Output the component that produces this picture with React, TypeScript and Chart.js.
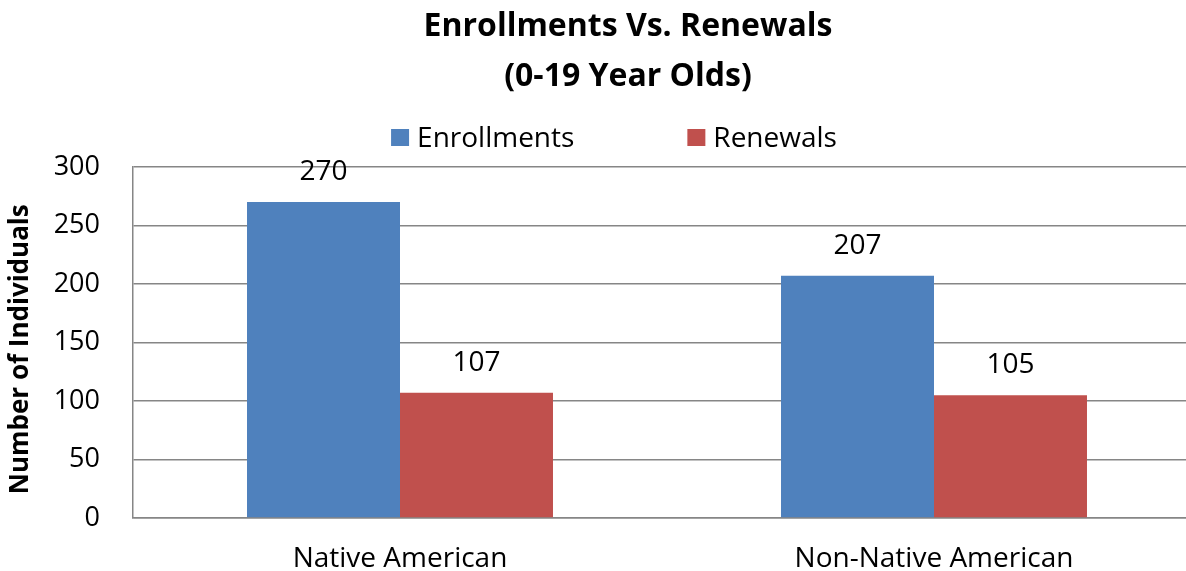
import React, { useEffect, useRef } from "react";
import { Chart, registerables } from "chart.js";

Chart.register(...registerables);

const titleLines = ["Enrollments Vs. Renewals", "(0-19 Year Olds)"];
const categories = ["Native American", "Non-Native American"];
const seriesNames = ["Enrollments", "Renewals"];
const enrollments = [270, 207];
const renewals = [107, 105];
const seriesColors = ["#4F81BD", "#C0504D"];
const yMin = 0;
const yMax = 300;
const yStep = 50;
const yAxisTitle = "Number of Individuals  ";

const FONT = "'Open Sans', 'DejaVu Sans', sans-serif";
const CANVAS_W = 1256;
const CANVAS_H = 571;

const valueLabels = {
  id: "valueLabels",
  afterDatasetsDraw(chart: any) {
    const ctx = chart.ctx;
    ctx.save();
    ctx.font = `28px ${FONT}`;
    ctx.fillStyle = "#000";
    ctx.textAlign = "center";
    ctx.textBaseline = "middle";
    chart.data.datasets.forEach((ds: any, i: number) => {
      const meta = chart.getDatasetMeta(i);
      meta.data.forEach((bar: any, j: number) => {
        ctx.fillText(String(ds.data[j]), bar.x, bar.y - 30);
      });
    });
    ctx.restore();
  },
};

const customLegend = {
  id: "customLegend",
  afterDraw(chart: any) {
    const ctx = chart.ctx;
    ctx.save();
    ctx.font = `28px ${FONT}`;
    ctx.textBaseline = "middle";
    ctx.textAlign = "left";
    const box = 18;
    const gapText = 8;
    const gapItems = 113;
    const items = chart.data.datasets.map((ds: any) => ({
      label: ds.label,
      color: ds.backgroundColor,
      w: box + gapText + ctx.measureText(ds.label).width,
    }));
    const total = items.reduce((s: number, it: any) => s + it.w, 0) + gapItems * (items.length - 1);
    let x = 614 - total / 2;
    const cy = 137.5;
    items.forEach((it: any) => {
      ctx.fillStyle = it.color;
      ctx.fillRect(x, cy - 8.5, box, 17);
      ctx.fillStyle = "#000";
      ctx.fillText(it.label, x + box + gapText, cy + 2);
      x += it.w + gapItems;
    });
    ctx.restore();
  },
};

export default function App() {
  const ref = useRef<HTMLCanvasElement | null>(null);
  useEffect(() => {
    if (!ref.current) return;
    const chart = new Chart(ref.current, {
      type: "bar",
      data: {
        labels: categories,
        datasets: [
          { label: seriesNames[0], data: enrollments, backgroundColor: seriesColors[0] },
          { label: seriesNames[1], data: renewals, backgroundColor: seriesColors[1] },
        ],
      },
      options: {
        responsive: false,
        animation: false,
        devicePixelRatio: 1,
        layout: { padding: { left: 0, right: 0, top: 0, bottom: 0 } },
        datasets: {
          bar: { categoryPercentage: 0.573, barPercentage: 1.0 },
        },
        plugins: {
          legend: { display: false },
          tooltip: { enabled: false },
          title: {
            display: true,
            text: titleLines,
            color: "#000",
            font: { family: FONT, size: 32, weight: "bold", lineHeight: 1.5625 },
            padding: { top: 2, bottom: 65 },
          },
        },
        scales: {
          x: {
            grid: { display: false, drawTicks: false },
            border: { display: true, color: "#868686", width: 1.5 },
            ticks: { color: "#000", font: { family: FONT, size: 28 }, padding: 24 },
            afterFit(scale: any) {
              scale.height = 53;
            },
          },
          y: {
            min: yMin,
            max: yMax,
            grid: { color: "#868686", lineWidth: 1.5, drawTicks: false },
            border: { display: true, color: "#868686", width: 1.5 },
            ticks: {
              stepSize: yStep,
              color: "#000",
              font: { family: FONT, size: 27 },
              padding: 33,
            },
            title: {
              display: true,
              text: yAxisTitle,
              color: "#000",
              font: { family: FONT, size: 26, weight: "bold" },
              padding: { top: 5, bottom: 0 },
            },
            afterFit(scale: any) {
              scale.width = 133;
            },
          },
          yRight: {
            position: "right",
            min: yMin,
            max: yMax,
            grid: { display: false, drawTicks: false },
            border: { display: false },
            ticks: { display: false },
            afterFit(scale: any) {
              scale.width = 55;
            },
          },
        },
      },
      plugins: [valueLabels, customLegend],
    } as any);
    return () => chart.destroy();
  }, []);
  return (
    <div style={{ position: "fixed", left: 0, top: 0, width: 1186, height: CANVAS_H, overflow: "hidden", background: "#fff" }}>
      <canvas ref={ref} width={CANVAS_W} height={CANVAS_H} style={{ display: "block" }} />
    </div>
  );
}
